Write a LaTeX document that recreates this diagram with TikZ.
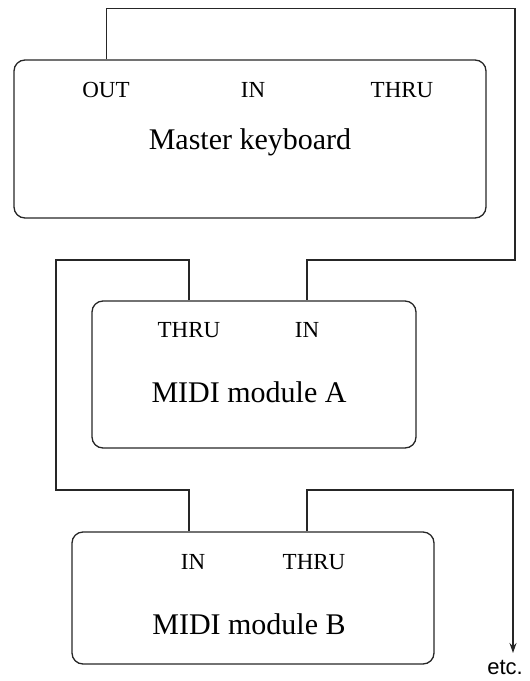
\documentclass[tikz,border=0pt]{standalone}
\usepackage{fontspec}
\setmainfont{Liberation Serif}
\newfontfamily\etcfont{Liberation Sans}
\usetikzlibrary{arrows.meta}

\tikzset{
  unitbox/.style={draw=black!85, line width=1.3pt, rounded corners=11pt, inner sep=0pt},
  wire/.style={draw=black!85, line width=1.3pt},
  port/.style={inner sep=0pt, font=\fontsize{23}{27}\selectfont},
  unitname/.style={inner sep=0pt, font=\fontsize{30}{36}\selectfont}
}

\begin{document}
\begin{tikzpicture}[x=1pt,y=1pt,yscale=-1,xscale=1]
    \useasboundingbox (0,0) rectangle (530,681);

    %Shape: Rounded Rect [id:kbd]
    \node [unitbox, minimum width=472pt, minimum height=158pt] (kbd) at (250,139) {};
    %Shape: Rounded Rect [id:moda]
    \node [unitbox, minimum width=324pt, minimum height=147pt] (moda) at (254,374.5) {};
    %Shape: Rounded Rect [id:modb]
    \node [unitbox, minimum width=362pt, minimum height=132pt] (modb) at (253,598) {};

    % Text Node
    \node [port] (kbd-out) at (106,90) {OUT};
    % Text Node
    \node [port] (kbd-in) at (253,90) {IN};
    % Text Node
    \node [port] (kbd-thru) at (402,90) {THRU};
    % Text Node
    \node [unitname] (kbd-name) at (250,142) {Master keyboard};
    % Text Node
    \node [port] (a-thru) at (189,330) {THRU};
    % Text Node
    \node [port] (a-in) at (307,330) {IN};
    % Text Node
    \node [unitname] (a-name) at (249,392) {MIDI module A};
    % Text Node
    \node [port] (b-in) at (193,562) {IN};
    % Text Node
    \node [port] (b-thru) at (314,562) {THRU};
    % Text Node
    \node [unitname] (b-name) at (249,624) {MIDI module B};
    % Text Node
    \node [inner sep=0pt, font=\etcfont\fontsize{22}{26}\selectfont] (etc) at (505,667) {etc.};

    %Straight Lines [id:out-to-a]
    \coordinate (k1) at (106.5,8.5);
    \coordinate (k2) at (515,8.5);
    \coordinate (k3) at (515,260);
    \coordinate (k4) at (307,260);
    \draw [wire] (kbd.north -| k1) -- (k1) -- (k2) -- (k3) -- (k4) -- (k4 |- moda.north);
    %Straight Lines [id:a-to-b]
    \coordinate (a1) at (189,260);
    \coordinate (a2) at (56,260);
    \coordinate (a3) at (56,490);
    \coordinate (a4) at (189,490);
    \draw [wire] (moda.north -| a1) -- (a1) -- (a2) -- (a3) -- (a4) -- (a4 |- modb.north);
    %Straight Lines [id:b-to-etc]
    \coordinate (b1) at (307,490);
    \coordinate (b2) at (513,490);
    \coordinate (b3) at (513,653);
    \draw [wire, -{Stealth[length=10pt,width=7pt]}] (modb.north -| b1) -- (b1) -- (b2) -- (b3);
\end{tikzpicture}
\end{document}
